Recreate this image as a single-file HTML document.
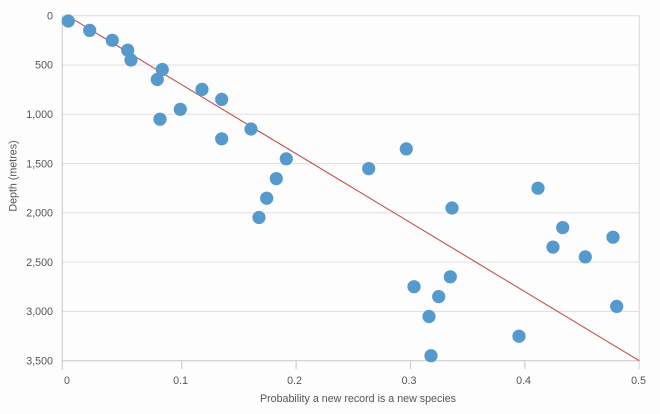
<!DOCTYPE html>
<html>
<head>
<meta charset="utf-8">
<style>
  html, body { margin: 0; padding: 0; background: #fefdfe; }
  svg { display: block; }
  text { font-family: "Liberation Sans", "DejaVu Sans", sans-serif; fill: #555; }
</style>
</head>
<body>
<svg width="660" height="414" viewBox="0 0 660 414" xmlns="http://www.w3.org/2000/svg">
  <rect x="0" y="0" width="660" height="414" fill="#fefdfe"/>
  <!-- gridlines -->
  <g stroke="#e0dde0" stroke-width="1">
    <line x1="62.3" y1="15.7" x2="639.3" y2="15.7"/>
    <line x1="62.3" y1="65" x2="639.3" y2="65"/>
    <line x1="62.3" y1="114.3" x2="639.3" y2="114.3"/>
    <line x1="62.3" y1="163.6" x2="639.3" y2="163.6"/>
    <line x1="62.3" y1="212.9" x2="639.3" y2="212.9"/>
    <line x1="62.3" y1="262.1" x2="639.3" y2="262.1"/>
    <line x1="62.3" y1="311.4" x2="639.3" y2="311.4"/>
  </g>
  <!-- right border -->
  <line x1="639.3" y1="15.7" x2="639.3" y2="369" stroke="#d8d6d8" stroke-width="1"/>
  <!-- axes -->
  <g stroke="#c8c6c8" stroke-width="1">
    <line x1="62.3" y1="15.7" x2="62.3" y2="370"/>
    <line x1="62.3" y1="360.7" x2="639.3" y2="360.7"/>
    <line x1="181.7" y1="360.7" x2="181.7" y2="369"/>
    <line x1="296.1" y1="360.7" x2="296.1" y2="369"/>
    <line x1="410.5" y1="360.7" x2="410.5" y2="369"/>
    <line x1="524.9" y1="360.7" x2="524.9" y2="369"/>
  </g>
  <!-- y tick labels -->
  <g font-size="10.7" text-anchor="end">
    <text x="53" y="19.4">0</text>
    <text x="53" y="68.7">500</text>
    <text x="53" y="118">1,000</text>
    <text x="53" y="167.3">1,500</text>
    <text x="53" y="216.6">2,000</text>
    <text x="53" y="265.8">2,500</text>
    <text x="53" y="315.1">3,000</text>
    <text x="53" y="364.4">3,500</text>
  </g>
  <!-- x tick labels -->
  <g font-size="10.7" text-anchor="middle">
    <text x="67" y="383.8">0</text>
    <text x="180.5" y="383.8">0.1</text>
    <text x="294.5" y="383.8">0.2</text>
    <text x="409" y="383.8">0.3</text>
    <text x="523.5" y="383.8">0.4</text>
    <text x="638.5" y="383.8">0.5</text>
  </g>
  <!-- axis titles -->
  <text x="358" y="401.8" font-size="10.7" text-anchor="middle" fill="#4a4a4a">Probability a new record is a new species</text>
  <text transform="translate(16.5,176) rotate(-90)" font-size="10.7" text-anchor="middle" fill="#4a4a4a">Depth (metres)</text>
  <!-- trend line -->
  <line x1="67.3" y1="15.7" x2="639.3" y2="360.7" stroke="#c0504d" stroke-width="1.1"/>
  <!-- dots -->
  <g fill="#5699cc">
    <circle cx="68.3" cy="21" r="6.6"/>
    <circle cx="89.7" cy="30.4" r="6.6"/>
    <circle cx="112.3" cy="40.3" r="6.6"/>
    <circle cx="127.7" cy="50.2" r="6.6"/>
    <circle cx="131" cy="60" r="6.6"/>
    <circle cx="162.3" cy="69.5" r="6.6"/>
    <circle cx="157.3" cy="79.5" r="6.6"/>
    <circle cx="202" cy="89.4" r="6.6"/>
    <circle cx="221.7" cy="99.4" r="6.6"/>
    <circle cx="180.3" cy="109.3" r="6.6"/>
    <circle cx="160" cy="119.2" r="6.6"/>
    <circle cx="251" cy="129" r="6.6"/>
    <circle cx="221.7" cy="138.8" r="6.6"/>
    <circle cx="406.3" cy="148.9" r="6.6"/>
    <circle cx="286.3" cy="158.8" r="6.6"/>
    <circle cx="368.7" cy="168.6" r="6.6"/>
    <circle cx="276.3" cy="178.6" r="6.6"/>
    <circle cx="538" cy="188.2" r="6.6"/>
    <circle cx="266.7" cy="198.2" r="6.6"/>
    <circle cx="452" cy="208" r="6.6"/>
    <circle cx="259" cy="217.5" r="6.6"/>
    <circle cx="562.7" cy="227.6" r="6.6"/>
    <circle cx="613" cy="237.2" r="6.6"/>
    <circle cx="553" cy="247.1" r="6.6"/>
    <circle cx="585.3" cy="256.9" r="6.6"/>
    <circle cx="450.3" cy="276.8" r="6.6"/>
    <circle cx="414" cy="286.7" r="6.6"/>
    <circle cx="438.7" cy="296.6" r="6.6"/>
    <circle cx="616.7" cy="306.4" r="6.6"/>
    <circle cx="429" cy="316.5" r="6.6"/>
    <circle cx="519" cy="336.2" r="6.6"/>
    <circle cx="431" cy="355.7" r="6.6"/>
  </g>
</svg>
</body>
</html>
